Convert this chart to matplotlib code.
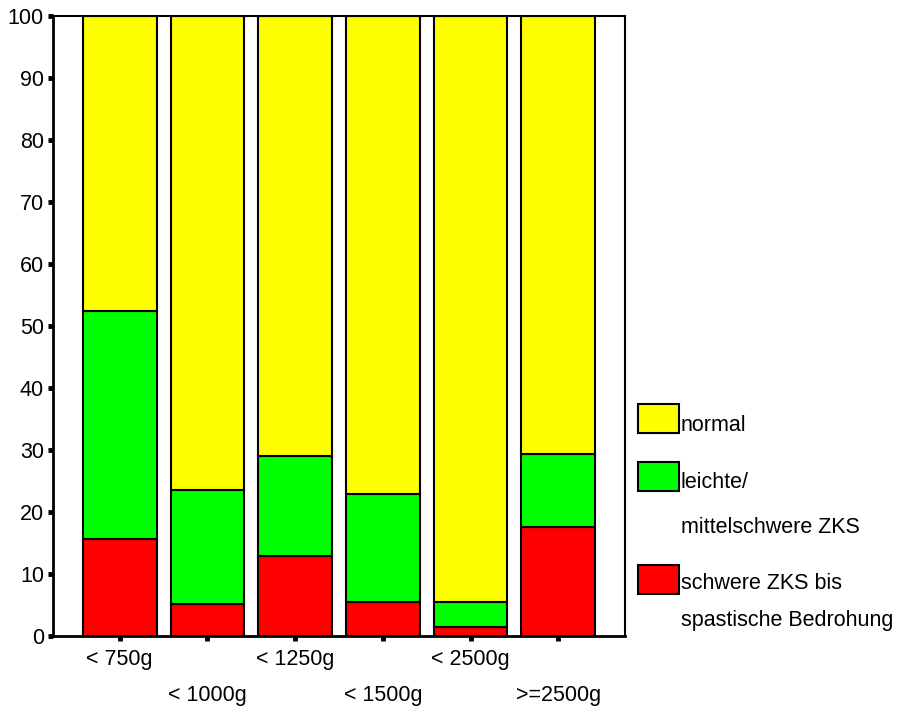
import matplotlib
matplotlib.use("Agg")
import matplotlib.pyplot as plt
from matplotlib.patches import Rectangle
import numpy as np

plt.rcParams['font.family'] = ['Liberation Sans', 'DejaVu Sans']

categories = ["< 750g", "< 1000g", "< 1250g", "< 1500g", "< 2500g", ">=2500g"]
# percentages per weight group
schwer = [15.7, 5.2, 12.9, 5.5, 1.5, 17.6]
leicht = [36.8, 18.4, 16.1, 17.4, 4.0, 11.8]
normal = [47.5, 76.4, 71.0, 77.1, 94.5, 70.6]

series_labels = ["normal", "leichte/\nmittelschwere ZKS", "schwere ZKS bis\nspastische Bedrohung"]
colors = ["#FFFF00", "#00FF00", "#FF0000"]

fig = plt.figure(figsize=(8.98, 7.06), dpi=100)
ax = fig.add_axes([0.059, 0.0992, 0.637, 0.878])

x = np.arange(len(categories))
w = 0.84
bottom = np.zeros(len(categories))
for vals, col in [(schwer, colors[2]), (leicht, colors[1]), (normal, colors[0])]:
    ax.bar(x, vals, w, bottom=bottom, color=col, edgecolor="black", linewidth=1.5)
    bottom += np.array(vals)

ax.set_xlim(-0.76, 5.76)
ax.set_ylim(0, 100)
ax.set_yticks(range(0, 101, 10))
ax.set_xticks(x)
# alternate labels on two rows
ax.set_xticklabels([c if i % 2 == 0 else "\n" + c for i, c in enumerate(categories)],
                   linespacing=1.9)
ax.tick_params(axis="both", labelsize=15.5, length=3.5, width=3.5, color="black")
ax.tick_params(axis="x", pad=6)
ax.tick_params(axis="y", pad=3)
for s in ax.spines.values():
    s.set_linewidth(1.5)
ax.spines["left"].set_linewidth(2)
ax.spines["bottom"].set_linewidth(2)

# legend drawn by hand to match layout
leg_x = 0.7105
patch_w, patch_h = 0.0457, 0.041
patch_y = [0.3867, 0.3045, 0.159]
text_y = [[0.398], [0.316, 0.2535], [0.174, 0.1215]]
for col, lab, py, ty in zip(colors, series_labels, patch_y, text_y):
    fig.add_artist(Rectangle((leg_x, py), patch_w, patch_h, transform=fig.transFigure,
                             facecolor=col, edgecolor="black", linewidth=1.5))
    for line, yy in zip(lab.split("\n"), ty):
        fig.text(leg_x + patch_w + 0.002, yy, line, fontsize=15.5, va="center", ha="left")

fig.savefig("out.png", dpi=100)
